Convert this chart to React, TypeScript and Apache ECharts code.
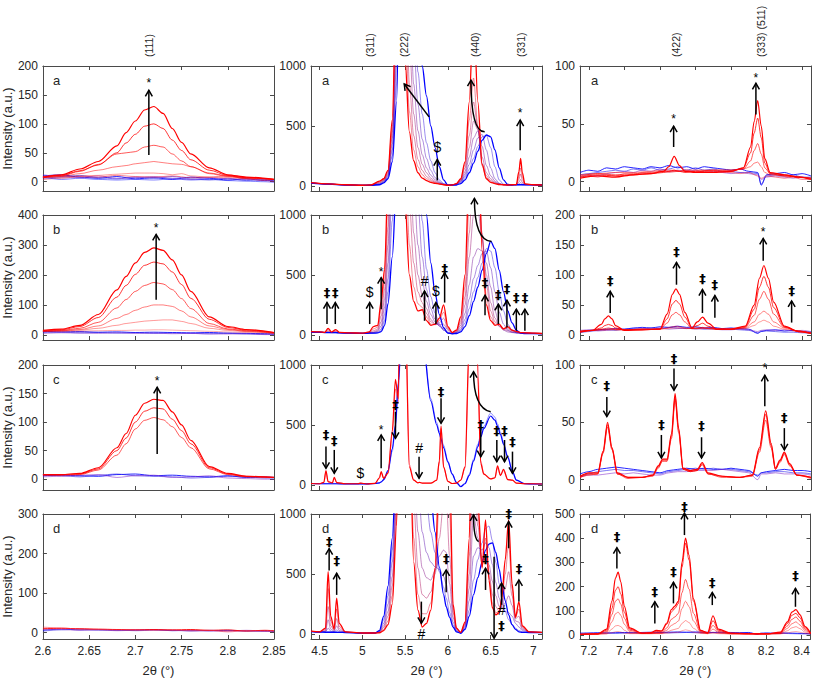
import React, { useEffect, useRef } from 'react';
import * as echarts from 'echarts';

// ================= axis definitions =================
const X_RANGES = [[2.6, 2.85], [4.4, 7.1], [7.15, 8.45]];
const X_TICKS = [
  [2.6, 2.65, 2.7, 2.75, 2.8, 2.85],
  [4.5, 5, 5.5, 6, 6.5, 7],
  [7.2, 7.4, 7.6, 7.8, 8, 8.2, 8.4],
];
const Y_RANGES = [
  [[-16, 200], [-42, 1000], [-8, 100]],
  [[-17, 400], [-42, 1000], [-8, 200]],
  [[-19, 200], [-42, 1000], [-9, 100]],
  [[-16, 300], [-40, 1000], [-16, 500]],
];
const Y_TICKS = [
  [[0, 50, 100, 150, 200], [0, 500, 1000], [0, 50, 100]],
  [[0, 100, 200, 300, 400], [0, 500, 1000], [0, 50, 100, 150, 200]],
  [[0, 50, 100, 150, 200], [0, 500, 1000], [0, 50, 100]],
  [[0, 100, 200, 300], [0, 500, 1000], [0, 100, 200, 300, 400, 500]],
];
const PANEL_LETTERS = ['a', 'b', 'c', 'd'];

// ================= column 1 : (111) =================
const x111 = [2.6, 2.62, 2.64, 2.66, 2.68, 2.69, 2.7, 2.71, 2.72, 2.73, 2.74, 2.75, 2.76, 2.78, 2.8, 2.82, 2.85];
const xNoise111 = [2.6, 2.62, 2.64, 2.66, 2.68, 2.7, 2.72, 2.74, 2.76, 2.78, 2.8, 2.82, 2.84, 2.85];

const peak111a = [
  [8, 12, 22, 35, 62, 85, 105, 124, 130, 118, 92, 68, 48, 24, 12, 8, 4],
  [8, 11, 19, 29, 50, 67, 82, 96, 100, 92, 72, 54, 38, 20, 11, 7, 4],
  [8, 10, 18, 30, 48, 50, 52, 60, 63, 60, 48, 36, 26, 15, 10, 7, 4],
  [7, 9, 14, 20, 26, 28, 31, 33, 35, 33, 31, 30, 26, 14, 9, 6, 4],
  [7, 8, 10, 11, 13, 14, 15, 15, 15, 14, 12, 14, 10, 8, 7, 6, 4],
];
const noise111a = [
  [10, 12, 8, 6, 9, 5, 7, 4, 8, 6, 3, 5, 2, 3],
  [6, 8, 11, 7, 5, 8, 6, 9, 5, 3, 6, 2, 4, 1],
  [12, 9, 7, 10, 6, 7, 9, 6, 4, 7, 5, 4, 3, 2],
  [4, 6, 9, 8, 11, 9, 8, 10, 7, 8, 10, 5, 2, 0],
  [8, 4, 6, 4, 3, 4, 3, 5, 3, 4, 2, 1, 0, -1],
];
const peak111b = [
  [15, 19, 32, 68, 150, 195, 240, 275, 290, 282, 250, 200, 145, 60, 28, 18, 8],
  [14, 17, 28, 58, 126, 165, 202, 232, 243, 237, 210, 168, 122, 52, 25, 16, 8],
  [13, 15, 22, 42, 90, 118, 145, 165, 175, 170, 151, 121, 88, 38, 20, 14, 7],
  [12, 14, 18, 30, 55, 68, 82, 93, 100, 100, 95, 80, 60, 30, 18, 12, 6],
  [12, 13, 16, 22, 32, 38, 42, 46, 48, 50, 50, 45, 38, 22, 15, 11, 6],
  [11, 12, 13, 14, 15, 15, 16, 16, 17, 17, 16, 15, 14, 12, 10, 8, 5],
];
const noise111b = [
  [12, 10, 11, 9, 10, 8, 9, 8, 7, 8, 6, 5, 4, 3],
  [8, 9, 7, 8, 6, 7, 5, 6, 5, 4, 5, 3, 2, 2],
  [5, 7, 6, 5, 7, 5, 6, 4, 5, 3, 3, 4, 1, 1],
];
const peak111c = [
  [8, 8, 10, 20, 55, 80, 112, 133, 140, 138, 118, 95, 68, 22, 10, 5, 3],
  [8, 8, 9, 18, 50, 72, 100, 119, 125, 123, 105, 85, 62, 20, 9, 5, 3],
  [7, 7, 8, 16, 42, 62, 88, 103, 108, 104, 92, 73, 55, 18, 8, 4, 3],
];
const noise111c = [
  [6, 7, 6, 5, 8, 9, 6, 7, 5, 4, 6, 3, 4, 3],
  [8, 6, 4, 7, 9, 6, 5, 4, 2, 3, 5, 4, 2, 2],
  [4, 5, 7, 8, 3, 6, 7, 3, 4, 6, 2, 1, 0, 0],
];
const noise111d = [
  [6, 9, 7, 8, 6, 7, 8, 5, 6, 5, 6, 4, 5, 3],
  [4, 7, 9, 6, 7, 5, 6, 6, 4, 6, 5, 5, 3, 4],
  [8, 8, 6, 7, 5, 6, 7, 6, 5, 4, 4, 6, 4, 2],
  [10, 11, 10, 9, 8, 7, 8, 7, 8, 6, 7, 4, 6, 5],
  [14, 12, 9, 8, 7, 8, 6, 7, 5, 6, 2, 5, 4, 4],
];

// ================= column 2 : (311)(222)(440)(331) =================
const x2a = [4.4, 4.6, 4.8, 5.0, 5.1, 5.2, 5.25, 5.3, 5.35, 5.4, 5.45, 5.5, 5.55, 5.6, 5.65, 5.7, 5.75, 5.8, 5.85, 5.9, 5.95, 6.0, 6.05, 6.1, 6.15, 6.2, 6.25, 6.3, 6.35, 6.4, 6.45, 6.5, 6.55, 6.6, 6.65, 6.7, 6.75, 6.8, 6.83, 6.85, 6.87, 6.9, 7.0, 7.1];
const fan2a = [
  [28, 18, 10, 6, 8, 40, 60, 130, 550, 1800, 3000, 1050, 450, 210, 110, 65, 45, 30, 22, 15, 10, 6, 8, 20, 60, 200, 700, 1500, 700, 180, 60, 30, 20, 12, 10, 8, 10, 12, 120, 230, 110, 18, 10, 8],
  [27, 18, 10, 6, 8, 35, 55, 120, 500, 1600, 3000, 1400, 620, 300, 160, 95, 60, 40, 28, 18, 11, 6, 8, 20, 55, 180, 550, 900, 500, 170, 70, 35, 20, 12, 10, 8, 10, 12, 80, 150, 75, 16, 10, 8],
  [27, 17, 10, 6, 8, 30, 50, 110, 450, 1450, 3000, 2000, 850, 420, 220, 130, 80, 50, 32, 20, 12, 6, 8, 18, 50, 150, 420, 700, 480, 190, 85, 45, 25, 14, 10, 8, 10, 11, 55, 100, 50, 14, 10, 8],
  [26, 17, 9, 6, 7, 25, 45, 100, 400, 1300, 3000, 2800, 1200, 600, 320, 180, 110, 65, 40, 24, 13, 6, 8, 15, 45, 120, 320, 540, 470, 240, 110, 60, 30, 16, 10, 8, 10, 11, 32, 55, 30, 12, 10, 8],
  [26, 16, 9, 5, 7, 20, 40, 90, 350, 1150, 3000, 3000, 1700, 850, 460, 260, 150, 90, 52, 28, 14, 6, 8, 14, 40, 100, 240, 400, 460, 330, 170, 85, 40, 18, 10, 8, 10, 10, 18, 28, 18, 11, 10, 8],
  [25, 16, 9, 5, 6, 15, 35, 80, 300, 1000, 3000, 3000, 2400, 1200, 680, 390, 230, 130, 70, 35, 16, 6, 8, 12, 35, 85, 180, 300, 400, 430, 300, 150, 60, 22, 10, 8, 10, 10, 11, 13, 11, 10, 9, 8],
  [25, 15, 8, 5, 6, 12, 30, 70, 250, 850, 3000, 3000, 3000, 1700, 950, 600, 360, 210, 110, 50, 20, 7, 8, 12, 30, 70, 140, 230, 330, 410, 420, 320, 160, 50, 15, 8, 10, 10, 10, 11, 10, 10, 9, 8],
  [24, 15, 8, 5, 6, 10, 25, 60, 200, 700, 2500, 3000, 3000, 2400, 1400, 1000, 750, 500, 320, 160, 50, 6, 8, 8, 20, 50, 110, 190, 290, 380, 425, 410, 300, 150, 50, 12, 8, 10, 10, 10, 10, 10, 9, 8],
];

const x2b = [4.4, 4.5, 4.56, 4.6, 4.64, 4.69, 4.73, 4.85, 5.0, 5.08, 5.13, 5.18, 5.22, 5.26, 5.3, 5.35, 5.4, 5.45, 5.5, 5.55, 5.6, 5.65, 5.7, 5.75, 5.8, 5.85, 5.9, 5.95, 6.0, 6.05, 6.1, 6.15, 6.2, 6.25, 6.3, 6.35, 6.4, 6.45, 6.5, 6.55, 6.6, 6.65, 6.7, 6.75, 6.8, 6.85, 6.9, 7.0, 7.1];
const fan2b = [
  [28, 25, 22, 55, 24, 45, 22, 18, 15, 25, 70, 80, 280, 550, 1300, 3000, 3000, 3000, 1100, 500, 280, 200, 210, 120, 80, 90, 140, 250, 70, 20, 40, 150, 500, 1400, 2500, 1800, 700, 250, 120, 80, 90, 50, 70, 40, 30, 20, 18, 15, 12],
  [28, 25, 22, 42, 23, 35, 21, 18, 15, 22, 50, 65, 220, 460, 1100, 3000, 3000, 3000, 1600, 750, 400, 260, 230, 150, 90, 85, 120, 190, 60, 20, 35, 120, 400, 1100, 2000, 1600, 800, 320, 150, 90, 85, 55, 60, 40, 28, 20, 18, 15, 12],
  [27, 24, 21, 32, 22, 28, 20, 17, 14, 20, 35, 50, 160, 380, 900, 2500, 3000, 3000, 2400, 1100, 600, 360, 270, 180, 110, 85, 100, 140, 50, 18, 30, 100, 320, 850, 1500, 1300, 850, 420, 200, 110, 75, 50, 50, 35, 25, 20, 18, 15, 12],
  [26, 24, 21, 25, 21, 23, 20, 17, 14, 18, 25, 40, 110, 300, 750, 2000, 3000, 3000, 3000, 1700, 850, 500, 330, 220, 130, 90, 85, 90, 40, 16, 25, 80, 250, 650, 1000, 1050, 800, 500, 270, 140, 70, 45, 35, 28, 22, 18, 16, 14, 12],
  [26, 23, 21, 22, 20, 21, 19, 16, 14, 17, 20, 32, 75, 230, 600, 1600, 3000, 3000, 3000, 2500, 1300, 750, 450, 280, 170, 110, 75, 50, 25, 14, 20, 60, 180, 420, 650, 720, 700, 600, 400, 200, 90, 40, 25, 20, 18, 16, 15, 14, 12],
  [25, 23, 20, 21, 20, 20, 19, 16, 13, 16, 17, 26, 50, 170, 470, 1250, 2800, 3000, 3000, 3000, 2000, 1100, 650, 380, 220, 130, 75, 40, 18, 12, 18, 45, 130, 300, 470, 580, 680, 700, 560, 360, 190, 90, 40, 22, 16, 15, 14, 13, 12],
  [25, 22, 20, 20, 19, 19, 18, 16, 13, 15, 16, 20, 35, 120, 360, 950, 2200, 3000, 3000, 3000, 2800, 1600, 950, 550, 320, 180, 90, 40, 15, 10, 15, 35, 100, 220, 360, 480, 600, 720, 700, 560, 360, 200, 90, 40, 18, 14, 13, 12, 11],
  [24, 22, 20, 20, 19, 19, 18, 15, 13, 15, 15, 17, 28, 80, 260, 650, 1300, 3000, 3000, 3000, 3000, 2400, 1500, 1000, 600, 350, 170, 60, 15, 10, 12, 25, 70, 160, 280, 400, 540, 680, 780, 720, 540, 360, 200, 100, 40, 15, 12, 11, 10],
];

const x2c = [4.4, 4.5, 4.55, 4.575, 4.6, 4.65, 4.672, 4.7, 4.8, 4.95, 4.98, 5.05, 5.15, 5.2, 5.22, 5.25, 5.3, 5.35, 5.387, 5.42, 5.45, 5.5, 5.55, 5.6, 5.65, 5.67, 5.7, 5.8, 5.87, 5.9, 5.92, 5.95, 6.0, 6.05, 6.1, 6.15, 6.2, 6.25, 6.3, 6.35, 6.384, 6.42, 6.5, 6.55, 6.58, 6.615, 6.65, 6.7, 6.755, 6.8, 6.9, 7.0, 7.1];
const set2c = [
  [12, 10, 22, 120, 28, 18, 64, 20, 10, 10, 16, 8, 14, 60, 111, 55, 100, 450, 880, 720, 2500, 1500, 150, 40, 18, 22, 15, 15, 40, 200, 490, 150, 30, 12, 15, 40, 150, 1200, 3000, 900, 180, 90, 50, 60, 160, 80, 130, 45, 40, 15, 10, 10, 8],
  [12, 10, 20, 105, 26, 17, 55, 19, 10, 10, 15, 8, 13, 55, 100, 52, 95, 420, 800, 680, 2300, 1600, 170, 42, 18, 21, 15, 15, 38, 185, 470, 145, 30, 12, 15, 38, 140, 1100, 2500, 1000, 200, 95, 52, 58, 140, 78, 120, 44, 38, 15, 10, 10, 8],
  [13, 11, 10, 10, 10, 10, 10, 10, 9, 9, 9, 9, 11, 16, 22, 40, 110, 280, 470, 800, 1100, 1900, 2500, 2250, 1700, 1520, 1280, 720, 520, 450, 400, 330, 200, 95, 25, -10, 15, 90, 215, 340, 420, 490, 600, 565, 510, 440, 355, 240, 115, 42, 10, 8, 8],
  [12, 10, 10, 10, 10, 10, 10, 10, 9, 9, 9, 9, 12, 18, 25, 45, 120, 300, 500, 850, 1150, 2000, 2600, 2300, 1700, 1500, 1250, 700, 500, 430, 380, 310, 190, 90, 20, -15, 10, 80, 200, 320, 400, 470, 575, 540, 490, 420, 340, 230, 110, 40, 10, 8, 8],
];

const x2d = [4.4, 4.5, 4.57, 4.6, 4.63, 4.67, 4.7, 4.73, 4.8, 5.0, 5.15, 5.2, 5.25, 5.3, 5.35, 5.4, 5.45, 5.5, 5.55, 5.6, 5.65, 5.7, 5.75, 5.8, 5.85, 5.9, 5.95, 5.98, 6.02, 6.06, 6.1, 6.15, 6.2, 6.25, 6.3, 6.35, 6.4, 6.44, 6.48, 6.52, 6.56, 6.6, 6.63, 6.67, 6.71, 6.75, 6.79, 6.83, 6.87, 6.95, 7.1];
const fan2d = [
  [25, 20, 50, 520, 150, 45, 300, 90, 20, 10, 10, 12, 30, 80, 250, 900, 3000, 3000, 1800, 600, 200, 60, 90, 200, 550, 1400, 3000, 3000, 1400, 250, 50, 15, 100, 800, 3000, 1100, 550, 950, 450, 220, 160, 180, 300, 620, 950, 420, 140, 270, 70, 20, 15],
  [25, 20, 40, 380, 110, 38, 210, 65, 19, 10, 10, 14, 40, 110, 320, 1000, 3000, 3000, 2000, 800, 330, 170, 170, 260, 520, 1100, 2000, 2200, 1000, 220, 50, 15, 90, 650, 2200, 1000, 560, 800, 480, 260, 180, 180, 270, 500, 750, 380, 140, 210, 60, 20, 15],
  [24, 19, 30, 230, 70, 30, 130, 45, 18, 10, 10, 16, 55, 150, 400, 1100, 3000, 3000, 2400, 1100, 550, 330, 300, 350, 500, 800, 1100, 1150, 650, 180, 45, 14, 80, 500, 1500, 900, 580, 650, 520, 330, 230, 190, 230, 380, 520, 320, 130, 150, 50, 20, 15],
  [24, 19, 25, 120, 42, 25, 70, 30, 17, 10, 10, 18, 70, 190, 480, 1200, 3000, 3000, 2800, 1500, 850, 550, 470, 450, 530, 650, 700, 680, 420, 140, 40, 12, 70, 380, 1000, 800, 620, 620, 580, 440, 320, 230, 210, 260, 320, 240, 110, 100, 40, 20, 15],
  [23, 18, 20, 50, 26, 20, 35, 22, 16, 9, 10, 22, 90, 250, 600, 1350, 3000, 3000, 3000, 2200, 1300, 850, 680, 600, 560, 540, 480, 420, 260, 100, 30, 10, 60, 280, 650, 720, 700, 760, 720, 580, 430, 300, 220, 190, 180, 150, 90, 60, 30, 18, 14],
  [23, 18, 17, 18, 17, 17, 17, 16, 15, 9, 10, 26, 120, 320, 700, 1450, 3000, 3000, 3000, 3000, 2200, 1500, 1100, 850, 680, 520, 390, 300, 180, 75, 25, 9, 50, 200, 450, 620, 760, 880, 900, 780, 600, 420, 300, 190, 120, 80, 50, 30, 20, 16, 14],
  [22, 17, 16, 16, 16, 16, 16, 15, 14, 9, 10, 30, 150, 400, 800, 1500, 3000, 3000, 3000, 3000, 3000, 2200, 1600, 1150, 850, 560, 330, 230, 140, 60, 20, 8, 40, 150, 330, 470, 600, 700, 750, 760, 680, 540, 420, 280, 160, 80, 40, 20, 15, 14, 13],
];

// ================= column 3 : (422)(333)(511) =================
const xNoise3 = [7.15, 7.2, 7.25, 7.3, 7.35, 7.4, 7.45, 7.5, 7.55, 7.6, 7.65, 7.7, 7.75, 7.8, 7.85, 7.9, 7.95, 8.0, 8.05, 8.1, 8.15, 8.17, 8.2, 8.25, 8.3, 8.35, 8.4, 8.45];

const x3a = [7.15, 7.25, 7.35, 7.45, 7.55, 7.62, 7.65, 7.68, 7.71, 7.74, 7.8, 7.9, 8.0, 8.07, 8.11, 8.13, 8.15, 8.17, 8.19, 8.22, 8.3, 8.38, 8.45];
const peak3a = [
  [3, 5, 4, 6, 7, 9, 13, 22, 14, 9, 8, 8, 9, 12, 30, 52, 70, 48, 20, 8, 6, 4, 2],
  [4, 6, 5, 6, 7, 8, 9, 10, 9, 8, 9, 9, 9, 12, 25, 42, 55, 38, 16, 7, 5, 4, 3],
  [5, 7, 6, 7, 8, 9, 9, 9, 9, 9, 9, 10, 10, 11, 18, 27, 33, 24, 12, 7, 6, 4, 3],
  [6, 7, 8, 8, 9, 10, 10, 10, 9, 10, 10, 10, 10, 11, 13, 16, 17, 13, 8, 6, 5, 4, 3],
];
const noise3a = [
  [8, 10, 9, 12, 11, 13, 12, 11, 13, 12, 14, 12, 13, 11, 13, 12, 11, 10, 11, 9, 8, -3, 6, 7, 8, 6, 7, 5],
  [6, 7, 8, 9, 10, 9, 11, 10, 12, 10, 11, 13, 10, 12, 10, 11, 9, 9, 8, 8, 7, -2, 5, 6, 5, 6, 4, 4],
  [4, 6, 5, 7, 8, 9, 8, 10, 9, 11, 9, 10, 9, 10, 8, 9, 8, 7, 8, 7, 6, 2, 4, 5, 4, 3, 4, 3],
  [3, 5, 4, 6, 5, 7, 6, 8, 7, 9, 8, 9, 10, 8, 9, 10, 8, 8, 7, 8, 5, 3, 5, 4, 3, 4, 2, 2],
];

const x3b = [7.15, 7.22, 7.27, 7.29, 7.31, 7.33, 7.35, 7.4, 7.5, 7.6, 7.64, 7.67, 7.69, 7.71, 7.74, 7.78, 7.81, 7.84, 7.87, 7.92, 8.0, 8.08, 8.13, 8.16, 8.185, 8.21, 8.24, 8.3, 8.38, 8.45];
const peak3b = [
  [5, 8, 18, 27, 32, 27, 16, 8, 9, 10, 35, 68, 77, 68, 38, 12, 22, 30, 20, 10, 10, 15, 50, 95, 116, 95, 55, 15, 6, 3],
  [6, 8, 12, 16, 18, 16, 12, 9, 9, 10, 27, 52, 58, 52, 30, 12, 16, 20, 15, 10, 10, 14, 43, 80, 98, 80, 46, 14, 6, 3],
  [6, 8, 10, 11, 12, 11, 10, 9, 10, 10, 20, 34, 38, 34, 22, 11, 12, 13, 12, 10, 10, 13, 33, 60, 73, 60, 35, 13, 7, 3],
  [7, 8, 9, 9, 10, 10, 9, 9, 10, 10, 12, 14, 15, 14, 12, 11, 11, 12, 11, 10, 10, 12, 22, 35, 40, 35, 22, 12, 7, 4],
  [7, 8, 9, 9, 9, 9, 9, 9, 10, 10, 11, 12, 12, 12, 11, 11, 11, 11, 11, 10, 10, 11, 16, 22, 25, 22, 15, 10, 7, 4],
];
const noise3b = [
  [6, 8, 9, 10, 11, 10, 12, 13, 12, 14, 13, 15, 13, 14, 12, 13, 11, 12, 11, 10, 3, 6, 8, 9, 7, 8, 6, 5],
  [4, 6, 8, 9, 8, 10, 11, 10, 12, 11, 13, 12, 11, 12, 10, 11, 10, 10, 9, 8, 4, 7, 7, 6, 5, 5, 4, 3],
  [8, 9, 7, 8, 10, 9, 9, 11, 10, 12, 10, 11, 12, 10, 11, 10, 9, 9, 10, 9, 6, 8, 9, 8, 9, 7, 8, 6],
];

const x3c = [7.15, 7.2, 7.25, 7.28, 7.305, 7.33, 7.36, 7.42, 7.5, 7.56, 7.59, 7.615, 7.64, 7.665, 7.685, 7.705, 7.73, 7.77, 7.81, 7.838, 7.87, 7.95, 8.05, 8.12, 8.16, 8.195, 8.225, 8.25, 8.275, 8.3, 8.33, 8.37, 8.45];
const peak3c = [
  [3, 6, 6, 25, 50, 28, 6, 2, 2, 4, 12, 18, 18, 40, 75, 45, 10, 8, 9, 15, 6, 3, 2, 4, 28, 60, 32, 10, 17, 24, 14, 4, 2],
  [2, 5, 5, 24, 48, 27, 5, 2, 2, 4, 11, 17, 17, 38, 72, 43, 9, 7, 8, 14, 5, 3, 2, 4, 26, 57, 30, 9, 16, 23, 13, 4, 2],
  [2, 4, 5, 23, 46, 26, 5, 1, 2, 3, 10, 16, 16, 36, 70, 41, 9, 7, 8, 13, 5, 2, 2, 3, 24, 52, 28, 9, 15, 22, 12, 4, 1],
];
const noise3c = [
  [5, 7, 9, 10, 11, 10, 9, 8, 7, 6, 8, 9, 10, 9, 10, 9, 9, 10, 9, 8, 3, 6, 7, 8, 9, 8, 8, 7],
  [3, 5, 7, 8, 9, 8, 8, 7, 6, 5, 7, 8, 9, 10, 9, 10, 9, 9, 8, 7, 4, 6, 6, 7, 7, 6, 6, 5],
  [2, 4, 4, 5, 6, 5, 6, 5, 4, 4, 6, 7, 7, 8, 8, 8, 9, 8, 7, 6, 0, 5, 5, 6, 5, 5, 5, 4],
];

const x3d = [7.15, 7.25, 7.3, 7.33, 7.35, 7.365, 7.38, 7.4, 7.43, 7.5, 7.55, 7.58, 7.61, 7.64, 7.665, 7.685, 7.705, 7.725, 7.745, 7.765, 7.79, 7.83, 7.87, 7.9, 7.93, 8.0, 8.1, 8.2, 8.28, 8.32, 8.345, 8.368, 8.39, 8.42, 8.45];
const peak3d = [
  [3, 5, 25, 140, 235, 260, 220, 120, 30, 8, 10, 20, 18, 50, 105, 120, 140, 300, 400, 330, 150, 20, 10, 80, 25, 8, 6, 5, 12, 55, 95, 105, 85, 35, 8],
  [3, 5, 20, 110, 185, 200, 170, 95, 25, 8, 9, 15, 15, 45, 95, 110, 130, 280, 380, 310, 140, 18, 9, 60, 20, 7, 6, 5, 10, 48, 82, 90, 72, 30, 7],
  [3, 5, 15, 85, 140, 150, 128, 70, 20, 8, 8, 10, 10, 30, 65, 75, 90, 175, 230, 190, 90, 14, 8, 40, 15, 6, 5, 5, 8, 38, 65, 75, 58, 24, 6],
  [3, 4, 10, 55, 88, 95, 82, 45, 14, 7, 7, 8, 8, 20, 40, 48, 58, 110, 140, 118, 58, 12, 7, 25, 11, 6, 5, 5, 7, 28, 47, 55, 42, 18, 6],
  [3, 4, 6, 25, 38, 40, 35, 20, 8, 6, 6, 7, 7, 12, 20, 24, 28, 48, 60, 52, 28, 9, 6, 12, 8, 5, 5, 5, 6, 18, 30, 35, 27, 12, 5],
  [3, 4, 5, 10, 14, 15, 13, 8, 6, 6, 6, 6, 6, 8, 10, 11, 12, 18, 22, 19, 12, 7, 6, 8, 6, 5, 5, 5, 5, 9, 13, 15, 12, 7, 5],
];
const noise3d = [
  [8, 9, 10, 9, 10, 11, 10, 11, 12, 11, 12, 13, 12, 13, 12, 11, 12, 11, 10, 11, 4, 8, 9, 8, 9, 8, 7, 6],
  [5, 6, 7, 8, 7, 8, 9, 8, 9, 10, 9, 10, 11, 10, 9, 10, 9, 9, 8, 9, 3, 6, 7, 6, 7, 6, 5, 4],
];

// ================= annotations (data coordinates) =================
// Miller indices above the top row: [column, 2θ, text]
const MILLER: [number, number, string][] = [
  [0, 2.7146, '(111)'],
  [1, 5.094, '(311)'],
  [1, 5.49, '(222)'],
  [1, 6.32, '(440)'],
  [1, 6.85, '(331)'],
  [2, 7.69, '(422)'],
  [2, 8.17, '(333) (511)'],
];
// [panel, 2θ, tail intensity, head intensity, marker, marker intensity]
const ARROWS: [number, number, number | null, number | null, string, number | null][] = [
  [0, 2.7146, 46, 158, '*', 170],
  [1, 5.876, 47, 220, '$', 326],
  [1, 6.845, 298, 549, '*', 610],
  [2, 7.677, 30, 48, '*', 54],
  [2, 8.14, 58, 85, '*', 90],
  [3, 2.7225, 117, 335, '*', 356],
  [4, 4.587, 91, 270, '‡', 353],
  [4, 4.684, 91, 270, '‡', 353],
  [4, 5.086, 91, 270, '$', 356],
  [4, 5.22, 215, 477, '*', 525],
  [4, 5.727, 118, 366, '#', 449],
  [4, 5.86, 91, 270, '$', 366],
  [4, 5.962, 270, 518, '‡', 553],
  [4, 6.434, 165, 331, '‡', 435],
  [4, 6.59, 91, 256, '‡', 339],
  [4, 6.69, 63, 289, '‡', 386],
  [4, 6.8, 36, 215, '‡', 311],
  [4, 6.9, 36, 215, '‡', 311],
  [5, 7.32, 37, 73, '‡', 91],
  [5, 7.693, 84, 121, '‡', 139],
  [5, 7.839, 37, 76, '‡', 94],
  [5, 7.909, 29, 66, '‡', 85],
  [5, 8.181, 124, 161, '*', 172],
  [5, 8.341, 21, 57, '‡', 75],
  [6, 2.7236, 44, 161, '*', 172],
  [7, 4.575, 320, 139, '‡', 417],
  [7, 4.672, 292, 97, '‡', 369],
  [7, 4.977, null, null, '$', 97],
  [7, 5.22, 139, 417, '*', 460],
  [7, 5.387, 611, 389, '‡', 667],
  [7, 5.663, 236, 56, '#', 306],
  [7, 5.92, 722, 514, '‡', 778],
  [7, 6.384, 458, 236, '‡', 500],
  [7, 6.572, 375, 194, '‡', 458],
  [7, 6.662, 375, 194, '‡', 458],
  [7, 6.755, 278, 97, '‡', 361],
  [8, 7.301, 72, 55, '‡', 82],
  [8, 7.608, 39, 19, '‡', 48],
  [8, 7.679, 97, 78, '‡', 106],
  [8, 7.834, 37, 19, '‡', 47],
  [8, 8.19, 64, 91, '*', 97],
  [8, 8.3, 45, 26, '‡', 54],
  [10, 4.612, 530, 712, '‡', 768],
  [10, 4.7, 327, 507, '‡', 609],
  [10, 5.69, 271, 91, '#', 5],
  [10, 5.98, 349, 535, '‡', 632],
  [10, 6.44, 368, 548, '‡', 632],
  [10, 6.54, 645, -33, '', null],
  [10, 6.627, 244, 424, '#', 200],
  [10, 6.627, null, null, '‡', 75],
  [10, 6.71, 715, 937, '‡', 1006],
  [10, 6.83, 271, 451, '‡', 548],
  [11, 7.358, 275, 361, '‡', 406],
  [11, 7.572, 48, 138, '‡', 179],
  [11, 7.677, 131, 218, '‡', 262],
  [11, 7.739, 413, 503, '‡', 532],
  [11, 7.896, 124, 176, '‡', 218],
  [11, 8.365, 117, 193, '‡', 248],
];
// straight slanted arrow: [panel, x0, y0, x1(head), y1(head)]
const SLANTS: [number, number, number, number, number][] = [[1, 5.78, 576, 5.49, 850]];
// curved arrows: [panel, x0, y0, ctrlX, ctrlY, x1(head), y1(head)]
const CURVES: [number, number, number, number, number, number, number][] = [
  [1, 6.43, 451, 6.27, 451, 6.27, 882],
  [4, 6.51, 779, 6.31, 790, 6.31, 1138],
  [7, 6.5, 610, 6.3, 640, 6.3, 944],
  [10, 6.36, 770, 6.3, 790, 6.3, 992],
];

// ================= layout & style =================
const GRID_LEFT = [42, 311, 580];
const GRID_W = [232, 231, 231];
const GRID_TOP = [66, 215, 365, 514];
const GRID_H = 125;
const FONT = '"Liberation Sans", Arial, Helvetica, sans-serif';
const SYM_FONT = '"DejaVu Sans", "Liberation Sans", sans-serif';
const AX = '#4a4a4a';
const TXT = '#262626';
const RED_ALPHAS = [1, 0.8, 0.65, 0.5, 0.4, 0.32];
const NOISE_COLORS = ['rgba(0,0,255,0.85)', 'rgba(40,30,235,0.6)', 'rgba(130,40,200,0.55)', 'rgba(235,30,60,0.55)', 'rgba(0,0,255,0.5)'];
const NOISE_D1 = ['rgba(0,0,255,0.7)', 'rgba(60,40,230,0.55)', 'rgba(140,40,190,0.55)', 'rgba(255,0,0,0.9)', 'rgba(255,40,60,0.55)'];
const SET2C_COLORS = ['rgba(255,0,0,1)', 'rgba(255,60,90,0.6)', 'rgba(90,90,255,0.65)', 'rgba(0,0,255,1)'];

function fanColor(k: number, n: number) {
  const t = k / (n - 1);
  const r = Math.round(255 * (1 - t));
  const b = Math.round(255 * t);
  const a = k === 0 || k === n - 1 ? 1 : 0.45;
  return `rgba(${r},0,${b},${a})`;
}

const plain = (v: number) => String(v);

function buildOption() {
  const grid: any[] = [];
  const xBottom: any[] = [];
  const xTop: any[] = [];
  const yLeft: any[] = [];
  const yRight: any[] = [];
  const series: any[] = [];

  for (let r = 0; r < 4; r++) {
    for (let c = 0; c < 3; c++) {
      const g = r * 3 + c;
      grid.push({ left: GRID_LEFT[c], top: GRID_TOP[r], width: GRID_W[c], height: GRID_H, show: false });
      const xr = X_RANGES[c];
      const yr = Y_RANGES[r][c];
      const axLine = { show: true, onZero: false, lineStyle: { color: AX, width: 1 } };
      xBottom.push({
        type: 'value', gridIndex: g, position: 'bottom', min: xr[0], max: xr[1],
        axisLine: axLine,
        axisTick: { show: true, inside: true, length: 4, customValues: X_TICKS[c], lineStyle: { color: AX } },
        axisLabel: { show: r === 3, customValues: X_TICKS[c], formatter: plain, color: TXT, fontSize: 12, margin: 6, fontFamily: FONT },
        splitLine: { show: false },
        name: r === 3 ? '2θ (°)' : '', nameLocation: 'middle', nameGap: 25,
        nameTextStyle: { color: TXT, fontSize: 13, fontFamily: FONT },
      });
      xTop.push({
        type: 'value', gridIndex: g, position: 'top', min: xr[0], max: xr[1],
        axisLine: axLine,
        axisTick: { show: true, inside: true, length: 4, customValues: X_TICKS[c], lineStyle: { color: AX } },
        axisLabel: { show: false }, splitLine: { show: false },
      });
      yLeft.push({
        type: 'value', gridIndex: g, position: 'left', min: yr[0], max: yr[1],
        axisLine: axLine,
        axisTick: { show: true, inside: true, length: 4, customValues: Y_TICKS[r][c], lineStyle: { color: AX } },
        axisLabel: { show: true, customValues: Y_TICKS[r][c], formatter: plain, color: TXT, fontSize: 12, margin: 5, fontFamily: FONT },
        splitLine: { show: false },
        name: c === 0 ? 'Intensity (a.u.)' : '', nameLocation: 'middle', nameGap: 27,
        nameTextStyle: { color: TXT, fontSize: 13, fontFamily: FONT },
      });
      yRight.push({
        type: 'value', gridIndex: g, position: 'right', min: yr[0], max: yr[1],
        axisLine: axLine,
        axisTick: { show: true, inside: true, length: 4, customValues: Y_TICKS[r][c], lineStyle: { color: AX } },
        axisLabel: { show: false }, splitLine: { show: false },
      });
    }
  }

  const add = (g: number, xs: number[], ys: number[], color: string, width = 1, z = 2) => {
    series.push({
      type: 'line', xAxisIndex: g, yAxisIndex: g,
      data: xs.map((x, i) => [x, ys[i]]),
      symbol: 'none', showSymbol: false, smooth: 0.3, smoothMonotone: 'x',
      lineStyle: { color, width }, z, silent: true, clip: true,
    });
  };
  const addNoise = (g: number, xs: number[], sets: number[][], colors: string[]) =>
    sets.forEach((ys, i) => add(g, xs, ys, colors[i % colors.length], 1, 2));
  const addReds = (g: number, xs: number[], sets: number[][]) =>
    sets.forEach((ys, i) => add(g, xs, ys, `rgba(255,0,0,${RED_ALPHAS[i]})`, i === 0 ? 1.2 : 1, 10 - i));
  const addFan = (g: number, xs: number[], sets: number[][]) => {
    const n = sets.length;
    for (let k = 1; k < n - 1; k++) add(g, xs, sets[k], fanColor(k, n), 1, 3);
    add(g, xs, sets[n - 1], fanColor(n - 1, n), 1.3, 5);
    add(g, xs, sets[0], fanColor(0, n), 1.3, 6);
  };

  // column 1
  addNoise(0, xNoise111, noise111a, NOISE_COLORS);
  addReds(0, x111, peak111a);
  addNoise(3, xNoise111, noise111b, NOISE_COLORS);
  addReds(3, x111, peak111b);
  addNoise(6, xNoise111, noise111c, NOISE_COLORS);
  addReds(6, x111, peak111c);
  addNoise(9, xNoise111, noise111d, NOISE_D1);
  // column 2
  addFan(1, x2a, fan2a);
  addFan(4, x2b, fan2b);
  set2c.forEach((ys, i) => add(7, x2c, ys, SET2C_COLORS[i], i === 0 || i === 3 ? 1.2 : 1, i === 0 ? 6 : 4));
  addFan(10, x2d, fan2d);
  // column 3
  addNoise(2, xNoise3, noise3a, NOISE_COLORS);
  addReds(2, x3a, peak3a);
  addNoise(5, xNoise3, noise3b, NOISE_COLORS);
  addReds(5, x3b, peak3b);
  addNoise(8, xNoise3, noise3c, NOISE_COLORS);
  addReds(8, x3c, peak3c);
  addNoise(11, xNoise3, noise3d, NOISE_COLORS);
  addReds(11, x3d, peak3d);

  return {
    animation: false,
    backgroundColor: '#ffffff',
    textStyle: { fontFamily: FONT },
    grid,
    xAxis: [...xBottom, ...xTop],
    yAxis: [...yLeft, ...yRight],
    series,
  };
}

function buildGraphics(chart: any) {
  const els: any[] = [];
  const P = (g: number, x: number, y: number): number[] =>
    chart.convertToPixel({ xAxisIndex: g, yAxisIndex: g }, [x, y]);
  const INK = '#000000';
  const LW = 1.5;
  const head = (from: number[], to: number[]) => {
    const dx = to[0] - from[0];
    const dy = to[1] - from[1];
    const L = Math.hypot(dx, dy) || 1;
    const ux = dx / L, uy = dy / L;
    const hl = 6, hw = 3.5;
    const bx = to[0] - ux * hl, by = to[1] - uy * hl;
    const nx = -uy, ny = ux;
    els.push({
      type: 'polyline', z: 100,
      shape: { points: [[bx + nx * hw, by + ny * hw], [to[0], to[1]], [bx - nx * hw, by - ny * hw]] },
      style: { stroke: INK, lineWidth: LW, fill: null },
    });
  };
  const marker = (x: number, y: number, t: string) => {
    const isDagger = t === '‡';
    els.push({
      type: 'text', x, y, z: 100,
      style: {
        text: t, fontSize: t === '*' ? 12 : isDagger ? 13 : 14, fontWeight: isDagger ? 'bold' : 'normal',
        fill: INK, align: 'center', verticalAlign: 'middle', fontFamily: isDagger ? SYM_FONT : FONT,
      },
    });
  };

  // Miller indices
  MILLER.forEach(([c, x, t]) => {
    const p = P(c, x, 0);
    els.push({
      type: 'text', x: p[0], y: 57, rotation: Math.PI / 2, z: 100,
      style: { text: t, fontSize: 10.5, fill: TXT, align: 'left', verticalAlign: 'middle', fontFamily: FONT },
    });
  });
  // panel letters
  for (let r = 0; r < 4; r++) {
    for (let c = 0; c < 3; c++) {
      els.push({
        type: 'text', x: GRID_LEFT[c] + 11, y: GRID_TOP[r] + 14, z: 100,
        style: { text: PANEL_LETTERS[r], fontSize: 13, fill: TXT, align: 'left', verticalAlign: 'middle', fontFamily: FONT },
      });
    }
  }
  // vertical arrows with markers
  ARROWS.forEach(([g, x, y0, y1, sym, ys]) => {
    if (y0 !== null && y1 !== null) {
      const a = P(g, x, y0);
      const b = P(g, x, y1);
      els.push({ type: 'line', z: 100, shape: { x1: a[0], y1: a[1], x2: b[0], y2: b[1] }, style: { stroke: INK, lineWidth: LW } });
      head(a, b);
    }
    if (sym && ys !== null) {
      const p = P(g, x, ys);
      marker(p[0], p[1], sym);
    }
  });
  // slanted arrows
  SLANTS.forEach(([g, x0, y0, x1, y1]) => {
    const a = P(g, x0, y0);
    const b = P(g, x1, y1);
    els.push({ type: 'line', z: 100, shape: { x1: a[0], y1: a[1], x2: b[0], y2: b[1] }, style: { stroke: INK, lineWidth: LW } });
    head(a, b);
  });
  // curved arrows
  CURVES.forEach(([g, x0, y0, cx, cy, x1, y1]) => {
    const a = P(g, x0, y0);
    const cp = P(g, cx, cy);
    const b = P(g, x1, y1);
    els.push({
      type: 'bezierCurve', z: 100,
      shape: { x1: a[0], y1: a[1], cpx1: cp[0], cpy1: cp[1], x2: b[0], y2: b[1] },
      style: { stroke: INK, lineWidth: LW, fill: null },
    });
    head(cp, b);
  });
  return els;
}

export default function App() {
  const ref = useRef<HTMLDivElement>(null);
  useEffect(() => {
    document.body.style.margin = '0';
    const chart = echarts.init(ref.current as HTMLDivElement, null, { renderer: 'svg' });
    chart.setOption(buildOption() as any);
    chart.setOption({ graphic: { elements: buildGraphics(chart) } } as any);
    return () => chart.dispose();
  }, []);
  return <div ref={ref} style={{ width: 813, height: 680 }} />;
}
